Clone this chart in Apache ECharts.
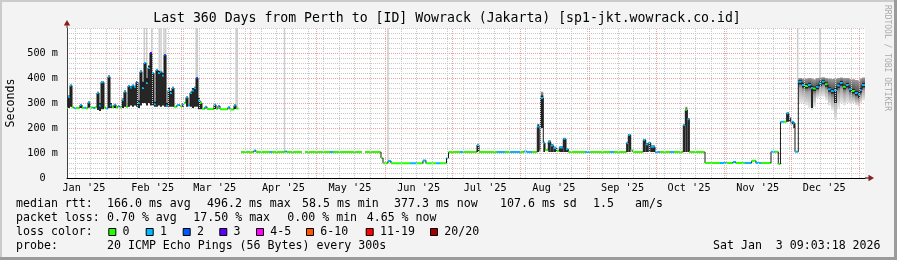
<!DOCTYPE html>
<html><head><meta charset="utf-8">
<script src="https://cdn.jsdelivr.net/npm/echarts/dist/echarts.min.js"></script>
<style>html,body{margin:0;padding:0;background:#f3f3f3}#c{width:897px;height:260px}</style>
</head><body><div id="c"></div>
<script>
const _ = null;
// ---- time frame (Last 360 Days, ending Sat Jan 3 09:03:18 2026) ----
const endText = 'Sat Jan  3 09:03:18 2026';
const rangeDays = 360;
const START = Date.UTC(2025, 0, 8, 9, 3, 18);
const DAYMS = 864e5;

// ---- x labels ----
const monthLabels = ["Jan '25","Feb '25","Mar '25","Apr '25","May '25","Jun '25","Jul '25","Aug '25","Sep '25","Oct '25","Nov '25","Dec '25"];

// ---- median RTT series (day offset from start, ms, loss count) ----
const day = [
  0.00, 0.45, 1.35, 2.26, 3.16, 4.06, 5.86, 6.77, 7.67, 8.57,
  9.47, 10.38, 11.73, 12.63, 13.53, 14.44, 15.34, 16.69, 17.59, 18.50,
  19.40, 20.30, 21.20, 22.11, 23.01, 23.91, 24.81, 25.71, 26.62, 27.52,
  28.42, 29.32, 30.23, 31.13, 32.03, 32.93, 33.83, 34.74, 35.64, 36.54,
  37.44, 38.35, 39.25, 40.15, 41.05, 41.96, 42.86, 43.76, 44.66, 45.56,
  46.47, 47.37, 48.27, 49.62, 50.98, 51.88, 52.78, 53.68, 54.59, 55.49,
  56.39, 57.29, 58.20, 59.10, 60.00, 60.90, 62.26, 63.16, 66.32, 67.22,
  68.12, 69.02, 72.63, 73.53, 75.34, 76.24, 77.40, 78.50, 84.36, 85.26,
  91.58, 92.48, 98.35, 99.25, 106.02, 107.37, 118.65, 120.00, 133.08, 134.44,
  141.65, 142.56, 144.81, 146.17, 154.74, 157.90, 160.60, 161.95, 166.47, 168.27,
  171.20, 172.11, 177.29, 178.65, 184.96, 185.86, 193.98, 197.59, 199.85, 204.36,
  206.17, 207.52, 209.77, 212.16, 213.06, 213.70, 214.87, 215.64, 217.13, 218.21,
  219.39, 220.92, 222.09, 223.89, 225.11, 226.15, 233.69, 235.94, 244.96, 246.77,
  252.50, 253.22, 254.30, 255.34, 259.99, 261.07, 262.24, 263.33, 265.26, 267.52,
  272.03, 273.84, 278.03, 278.94, 279.84, 280.74, 287.82, 294.59, 297.29, 300.45,
  301.80, 305.86, 308.88, 310.82, 313.08, 317.59, 319.39, 320.88, 321.87, 323.45,
  324.67, 325.71, 326.47, 327.65, 328.42, 329.91, 331.58, 332.93, 334.28, 335.64,
  336.54, 337.89, 339.24, 340.60, 341.95, 343.30, 344.66, 346.01, 347.36, 348.72,
  350.07, 351.42, 352.78, 354.13, 355.48, 356.84, 357.74, 358.64
];
const median = [
  281, 325, 370, 283, 280, 280, 292, 280, 281, 279,
  302, 282, 280, 283, 340, 290, 383, 282, 278, 405,
  290, 283, 293, 282, 288, 282, 313, 345, 285, 368,
  362, 370, 365, 383, 300, 425, 360, 460, 380, 440,
  500, 420, 295, 432, 420, 425, 410, 492, 290, 350,
  340, 360, 285, 292, 288, 295, 300, 322, 290, 340,
  350, 360, 400, 310, 300, 277, 285, 276, 293, 277,
  288, 275, 283, 274, 290, 278, _, 104, 110, 104,
  104, 104, 106, 104, _, 104, 104, 104, _, 104,
  80, 59, 68, 59, 59, 59, 70, 59, 59, 59,
  80, 104, 104, 104, 132, 104, 104, 104, 104, 104,
  106, 104, 104, 205, 200, 320, 140, 112, 145, 130,
  120, 108, 122, 157, 115, 104, 104, 104, 104, 104,
  140, 172, 110, 104, 152, 135, 140, 125, 104, 104,
  104, 104, 212, 272, 235, 104, 60, 60, 60, 64,
  60, 60, 69, 60, 60, 105, 105, 56, 225, 225,
  259, 239, 225, 219, 105, 385, 372, 368, 372, 360,
  358, 365, 378, 385, 375, 355, 348, 352, 370, 380,
  365, 372, 355, 348, 340, 335, 352, 372
];
const loss = [
  0,1,1,0,1,0,1,0,1,0,
  1,0,1,0,1,1,1,0,1,1,
  1,0,1,0,1,0,1,1,0,1,
  1,1,1,2,1,1,1,1,1,1,
  3,1,1,1,1,1,1,2,1,1,
  1,1,0,1,0,1,0,1,1,1,
  1,1,2,1,0,0,1,0,1,0,
  1,0,1,0,1,0,0,0,1,0,
  1,0,1,0,0,0,1,0,0,0,
  0,0,1,0,1,0,1,0,1,0,
  1,0,1,0,1,0,1,0,1,0,
  1,1,0,1,1,1,1,0,1,1,
  1,0,1,1,1,0,1,0,1,0,
  1,1,0,0,1,1,1,1,1,0,
  1,0,1,0,1,0,0,1,0,1,
  0,1,0,1,0,1,0,0,1,0,
  1,1,1,1,1,1,1,0,1,1,
  0,1,1,1,0,1,1,1,1,1,
  0,1,1,0,1,1,1,1
];
// dense smoke (ms)
const smokeLo = [
  _, 280, 285, _, _, _, 280, _, _, _,
  282, _, _, _, 272, 268, 275, _, _, 280,
  280, _, 280, _, _, _, 280, 285, _, 285,
  290, 285, 290, 285, 280, 290, 300, 300, 290, 300,
  290, 290, 285, 285, 290, 285, 290, 285, 285, 285,
  285, 285, _, _, _, 285, _, 285, _, 285,
  280, 285, 285, 275, 275, _, _, _, 276, _,
  _, _, _, _, 276, _, _, _, _, _,
  _, _, _, _, _, _, _, _, _, _,
  _, _, _, _, _, _, _, _, _, _,
  _, _, _, _, 104, _, _, _, _, _,
  _, _, _, 104, 110, 200, 104, _, 104, 104,
  104, _, 104, 104, 104, _, _, _, _, _,
  104, 104, _, _, 104, 104, 104, 104, _, _,
  _, _, 104, 104, 104, _, _, _, _, _,
  _, _, _, _, _, _, _, _, _, _,
  225, 225, 215, 200, _, 375, 362, 358, 362, 280,
  348, 355, 368, 375, 365, 345, 338, 300, 360, 370,
  355, 362, 345, 338, 330, 320, 342, 362
];
const smokeHi = [
  _, 330, 373, _, _, _, 296, _, _, _,
  306, _, _, _, 345, 300, 386, _, _, 410,
  300, _, 296, _, _, _, 318, 350, _, 372,
  366, 373, 368, 386, 310, 430, 385, 463, 400, 450,
  503, 423, 305, 436, 428, 428, 420, 495, 300, 362,
  348, 365, _, _, _, 300, _, 326, _, 345,
  360, 365, 403, 320, 305, _, _, _, 296, _,
  _, _, _, _, 294, _, _, _, _, _,
  _, _, _, _, _, _, _, _, _, _,
  _, _, _, _, _, _, _, _, _, _,
  _, _, _, _, 135, _, _, _, _, _,
  _, _, _, 215, 205, 330, 145, _, 150, 135,
  125, _, 126, 160, 118, _, _, _, _, _,
  145, 175, _, _, 156, 140, 143, 130, _, _,
  _, _, 215, 275, 240, _, _, _, _, _,
  _, _, _, _, _, _, _, _, _, _,
  262, 242, 228, 222, _, 392, 380, 376, 380, 368,
  366, 372, 386, 392, 383, 363, 356, 360, 378, 388,
  373, 380, 363, 356, 348, 345, 360, 380
];
// light smoke (ms)
const hazeLo = [
  _,_,_,_,_,_,_,_,_,_, _,_,_,_,_,_,_,_,_,_, _,_,_,_,_,_,_,_,_,_, _,_,_,_,_,_,_,_,_,_,
  _,_,_,_,_,_,_,_,_,_, _,_,_,_,_,_,_,_,_,_, _,_,_,_,_,_,_,_,_,_, _,_,_,_,_,_,_,_,_,_,
  _,_,_,_,_,_,_,_,_,_, _,_,_,_,_,_,_,_,_,_, _,_,_,_,_,_,_,_,_,_,
  _,_,_,_,_, 200, _,_,_,_,
  _,_,_,_,_,_,_,_,_,_, _,_,_,_,_,_,_,_,_,_,
  _,_,_, 104, _,_,_,_,_,_,
  _,_,_,_,_,_,_,_,_,_,
  _,_,_,_,_, 300, 300, 290, 280, 270,
  285, 320, 325, 325, 310, 290, 270, 232, 280, 300,
  290, 300, 295, 300, 290, 285, 300, 310
];
const hazeHi = [
  _,_,_,_,_,_,_,_,_,_, _,_,_,_,_,_,_,_,_,_, _,_,_,_,_,_,_,_,_,_, _,_,_,_,_,_,_,_,_,_,
  _,_,_,_,_,_,_,_,_,_, _,_,_,_,_,_,_,_,_,_, _,_,_,_,_,_,_,_,_,_, _,_,_,_,_,_,_,_,_,_,
  _,_,_,_,_,_,_,_,_,_, _,_,_,_,_,_,_,_,_,_, _,_,_,_,_,_,_,_,_,_,
  _,_,_,_,_, 345, _,_,_,_,
  _,_,_,_,_,_,_,_,_,_, _,_,_,_,_,_,_,_,_,_,
  _,_,_, 285, _,_,_,_,_,_,
  _,_,_,_,_,_,_,_,_,_,
  _,_,_,_,_, 400, 398, 398, 400, 398,
  395, 400, 402, 403, 400, 398, 396, 398, 400, 402,
  400, 400, 396, 395, 392, 390, 398, 402
];
// pings above the top of the scale
const offDay  = [34.87, 35.95, 38.21, 41.64, 42.41, 43.76, 44.53, 58.30, 58.80, 76.30, 76.80, 98.12, 144.81, 329.63, 339.69];
const offFrom = [460, 380, 420, 420, 425, 492, 290, 400, 400, 278, 278, 104, 68, 385, 378];

// ---- legend texts ----
const titleText = 'Last 360 Days from Perth to [ID] Wowrack (Jakarta) [sp1-jkt.wowrack.co.id]';
const rttStats  = ['166.0 ms avg', '496.2 ms max', '58.5 ms min', '377.3 ms now', '107.6 ms sd', '1.5', 'am/s'];
const lossStats = ['0.70 % avg', '17.50 % max', '0.00 % min', '4.65 % now'];
const lossLegendLabels = ['0', '1', '2', '3', '4-5', '6-10', '11-19', '20/20'];
const lossColors = ['#26ff00', '#00b8ff', '#0059ff', '#5e00ff', '#ff00ff', '#ff5500', '#ff0000', '#a10000'];
const probeText = '20 ICMP Echo Pings (56 Bytes) every 300s';

// ---- derived ----
const toDay = t => (t - START) / DAYMS;
const monthLabelDays = monthLabels.map((_, m) => toDay(Date.UTC(2025, m, 16)));
const monthStartDays = [];
for (let m = 1; m <= 12; m++) monthStartDays.push(toDay(Date.UTC(2025, m, 1)));
const weekDays = [];
for (let t = Date.UTC(2025, 0, 12); toDay(t) < rangeDays; t += 7 * DAYMS) weekDays.push(toDay(t));

const MONO = '"DejaVu Sans Mono", monospace';
const GRIDGREY = '#c9c9c9', GRIDRED = '#f0a0a0';

function renderMain(params, api) {
  const i = params.dataIndex;
  const d0 = day[i], d1 = i + 1 < day.length ? day[i + 1] : rangeDays;
  const x0 = api.coord([d0, 0])[0], x1 = api.coord([d1, 0])[0];
  const ch = [];
  const m = median[i];
  if (hazeLo[i] != null) {
    const yT = api.coord([d0, hazeHi[i]])[1], yB = api.coord([d0, hazeLo[i]])[1];
    let off = m != null ? (hazeHi[i] - m) / (hazeHi[i] - hazeLo[i]) : 0.3;
    off = Math.max(0.05, Math.min(0.9, off));
    ch.push({type: 'rect', shape: {x: x0, y: yT, width: x1 - x0, height: yB - yT},
      style: {fill: new echarts.graphic.LinearGradient(0, 0, 0, 1, [
        {offset: 0, color: '#9c9c9c'}, {offset: off, color: '#4a4a4a'},
        {offset: Math.min(1, off + 0.25), color: '#a8a8a8'}, {offset: 1, color: '#e8e8e8'}])}});
  }
  if (smokeLo[i] != null) {
    const yT = api.coord([d0, smokeHi[i]])[1], yB = api.coord([d0, smokeLo[i]])[1];
    ch.push({type: 'rect', shape: {x: x0, y: yT, width: x1 - x0, height: yB - yT}, style: {fill: '#262626'}});
  }
  if (m != null) {
    const y = api.coord([d0, m])[1];
    const pm = i > 0 ? median[i - 1] : null;
    if (pm != null && pm !== m) {
      const yp = api.coord([d0, pm])[1];
      ch.push({type: 'line', shape: {x1: x0, y1: yp, x2: x0, y2: y}, style: {stroke: '#1a1a1a', lineWidth: 1}});
    }
    ch.push({type: 'line', shape: {x1: x0, y1: y, x2: x1, y2: y}, style: {stroke: lossColors[loss[i]], lineWidth: 2}});
  }
  return {type: 'group', children: ch};
}
function renderOff(params, api) {
  const i = params.dataIndex;
  const x = api.coord([offDay[i], 0])[0];
  const yT = api.coord([offDay[i], 600])[1], yB = api.coord([offDay[i], offFrom[i]])[1];
  return {type: 'rect', shape: {x: x - 0.75, y: yT, width: 1.5, height: yB - yT}, style: {fill: '#cccccc'}};
}

const gridLines = weekDays.map(d => ({xAxis: d, lineStyle: {color: GRIDGREY, type: [1, 1], width: 1}}))
  .concat(monthStartDays.filter(d => d < rangeDays + 0.1).map(d => ({xAxis: d, lineStyle: {color: GRIDRED, type: [1, 1], width: 1}})));

const txt = (text, x, y, extra) => Object.assign({type: 'text', x, y, silent: true,
  style: Object.assign({text, font: '11.6px ' + MONO, fill: '#000', align: 'left', verticalAlign: 'middle'}, extra || {})});

const elements = [
  // frame
  {type: 'rect', shape: {x: 0, y: 0, width: 897, height: 2}, style: {fill: '#cbcbcb'}, silent: true},
  {type: 'rect', shape: {x: 0, y: 0, width: 2, height: 260}, style: {fill: '#cbcbcb'}, silent: true},
  {type: 'rect', shape: {x: 0, y: 257, width: 897, height: 3}, style: {fill: '#9b9b9b'}, silent: true},
  {type: 'rect', shape: {x: 894, y: 0, width: 3, height: 260}, style: {fill: '#9b9b9b'}, silent: true},
  // axis extensions and arrows
  {type: 'line', shape: {x1: 67, y1: 28, x2: 67, y2: 23}, style: {stroke: '#404040', lineWidth: 1}, silent: true},
  {type: 'polygon', shape: {points: [[63.8, 25.5], [70.2, 25.5], [67, 20]]}, style: {fill: '#8b1c1c'}, silent: true},
  {type: 'line', shape: {x1: 865, y1: 178, x2: 870, y2: 178}, style: {stroke: '#000', lineWidth: 1}, silent: true},
  {type: 'polygon', shape: {points: [[868.5, 174.8], [868.5, 181.2], [874, 178]]}, style: {fill: '#8b1c1c'}, silent: true},
  // title, unit, watermark
  txt(titleText, 447, 18.5, {font: '13.2px ' + MONO, align: 'center'}),
  Object.assign(txt('Seconds', 11, 103, {align: 'center'}), {rotation: Math.PI / 2}),
  Object.assign(txt('RRDTOOL / TOBI OETIKER', 887, 5, {font: '8px ' + MONO, fill: '#aaaaaa'}), {rotation: -Math.PI / 2}),
  // legend
  txt('median rtt:', 16, 204),
  txt('packet loss:', 16, 218.3),
  txt('loss color:', 16, 232.3),
  txt('probe:', 16, 246),
  txt(probeText, 107, 246),
  txt(endText, 713, 246)
];
[107, 207, 302, 394, 500, 593, 635].forEach((x, k) => elements.push(txt(rttStats[k], x, 204)));
[107, 193.3, 287.3, 366.7].forEach((x, k) => elements.push(txt(lossStats[k], x, 218.3)));
[108.3, 145.7, 182.7, 219.3, 256, 306, 365.7, 430].forEach((x, k) => {
  elements.push({type: 'rect', shape: {x: x + 0.5, y: 228.5, width: 7, height: 7}, style: {fill: lossColors[k], stroke: '#000', lineWidth: 1}, silent: true});
  elements.push(txt(lossLegendLabels[k], x + 14.3, 232.3));
});

const chart = echarts.init(document.getElementById('c'), null, {renderer: 'canvas', width: 897, height: 260});
chart.setOption({
  animation: false,
  backgroundColor: '#f3f3f3',
  grid: {left: 67, top: 28, width: 798, height: 150, show: true, backgroundColor: '#ffffff', borderWidth: 0},
  xAxis: {
    type: 'value', min: 0, max: rangeDays,
    axisLine: {show: true, onZero: false, lineStyle: {color: '#000', width: 1}},
    axisTick: {show: false}, splitLine: {show: false},
    axisLabel: {
      customValues: monthLabelDays,
      formatter: v => { const k = monthLabelDays.findIndex(d => Math.abs(d - v) < 1e-6); return k >= 0 ? monthLabels[k] : ''; },
      fontFamily: MONO, fontSize: 10.2, color: '#000', margin: 5
    }
  },
  yAxis: {
    type: 'value', min: 0, max: 600, interval: 100,
    axisLine: {show: true, lineStyle: {color: '#404040', width: 1}},
    axisTick: {show: false},
    axisLabel: {formatter: v => v === 600 ? '' : (v === 0 ? '0  ' : v + ' m'), fontFamily: MONO, fontSize: 10.2, color: '#000', margin: 9},
    splitLine: {show: true, lineStyle: {color: [GRIDRED, GRIDRED, GRIDRED, GRIDRED, GRIDRED, GRIDRED, GRIDGREY], type: [1, 1], width: 1}},
    minorTick: {show: false, splitNumber: 5},
    minorSplitLine: {show: true, lineStyle: {color: GRIDGREY, type: [1, 1], width: 1}}
  },
  series: [
    {type: 'line', data: [], z: 1, silent: true,
     markLine: {silent: true, symbol: ['none', 'none'], label: {show: false}, animation: false, data: gridLines}},
    {type: 'custom', z: 2, silent: true, renderItem: renderOff,
     data: offDay.map((d, i) => [d, offFrom[i]]), encode: {x: 0, y: 1}},
    {type: 'custom', z: 3, silent: true, renderItem: renderMain,
     data: day.map((d, i) => [d, median[i] == null ? 0 : median[i]]), encode: {x: 0, y: 1}}
  ],
  graphic: {elements}
});
</script></body></html>
